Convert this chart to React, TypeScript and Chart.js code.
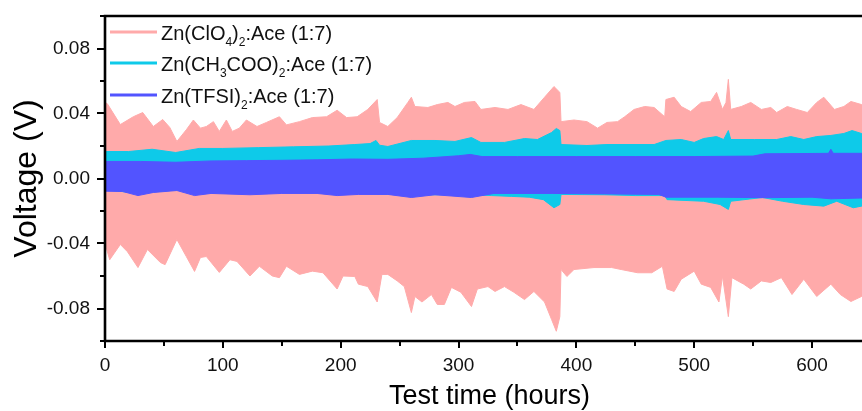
import React, { useEffect, useRef } from "react";
import { Chart, registerables } from "chart.js";

Chart.register(...registerables);

// ---- data (hours, volts) ----
const clo4Upper: [number, number][] = [
  [0, 0.0468], [2, 0.046], [13, 0.0332], [24, 0.038], [32, 0.0406], [41, 0.032], [49, 0.0363], [55, 0.0314],
  [61, 0.0228], [69, 0.03], [75, 0.036], [81, 0.031], [86, 0.032], [92, 0.035], [97, 0.029], [103, 0.036],
  [108, 0.029], [114, 0.031], [120, 0.036], [129, 0.032], [137, 0.0345], [148, 0.038], [154, 0.033], [165, 0.035],
  [176, 0.0375], [188, 0.038], [197, 0.042], [205, 0.0375], [214, 0.038], [223, 0.0425], [231, 0.0486], [233, 0.0345],
  [240, 0.032], [248, 0.0375], [257, 0.0468], [260, 0.05], [263, 0.0443], [274, 0.0437], [282, 0.0455], [291, 0.0468],
  [297, 0.0443], [305, 0.0468], [314, 0.0474], [319, 0.0425], [331, 0.0437], [342, 0.0425], [353, 0.0455], [364, 0.0425],
  [373, 0.05], [381, 0.0566], [386, 0.053], [387, 0.035], [398, 0.036], [409, 0.035], [418, 0.031], [426, 0.0345],
  [435, 0.035], [441, 0.038], [449, 0.0425], [458, 0.0443], [466, 0.0437], [475, 0.038], [476, 0.0486], [483, 0.05],
  [489, 0.0443], [497, 0.0412], [506, 0.0468], [514, 0.0474], [519, 0.053], [524, 0.0425], [527, 0.0468], [529, 0.061],
  [531, 0.0425], [540, 0.0443], [548, 0.0468], [557, 0.0425], [565, 0.0437], [570, 0.0406], [579, 0.0443], [587, 0.0425],
  [596, 0.0406], [604, 0.0468], [610, 0.05], [619, 0.0425], [627, 0.0443], [633, 0.0474], [642, 0.0455], [652, 0.045],
];
const clo4Lower: [number, number][] = [
  [0, -0.04], [4, -0.05], [13, -0.0406], [19, -0.045], [28, -0.0548], [36, -0.0437], [47, -0.0517], [51, -0.053],
  [61, -0.0375], [69, -0.048], [76, -0.0572], [81, -0.0486], [86, -0.048], [97, -0.0578], [106, -0.05], [112, -0.051],
  [123, -0.06], [131, -0.054], [142, -0.06], [148, -0.061], [154, -0.054], [165, -0.059], [176, -0.057], [185, -0.058],
  [197, -0.068], [202, -0.06], [212, -0.0603], [215, -0.065], [223, -0.0665], [231, -0.076], [235, -0.059], [240, -0.059],
  [248, -0.063], [254, -0.0665], [260, -0.0825], [263, -0.0726], [269, -0.076], [277, -0.0714], [282, -0.0775], [288, -0.0775],
  [294, -0.067], [302, -0.07], [311, -0.0788], [316, -0.068], [325, -0.0665], [331, -0.0695], [339, -0.0665], [347, -0.07],
  [356, -0.0745], [364, -0.0695], [373, -0.076], [379, -0.0868], [383, -0.094], [386, -0.085], [387, -0.056], [392, -0.0603],
  [398, -0.056], [415, -0.0548], [430, -0.0548], [438, -0.056], [452, -0.058], [464, -0.058], [473, -0.054], [477, -0.068],
  [483, -0.0695], [489, -0.062], [500, -0.057], [506, -0.065], [514, -0.067], [521, -0.076], [524, -0.06], [529, -0.085],
  [532, -0.061], [542, -0.065], [548, -0.068], [557, -0.063], [565, -0.064], [574, -0.061], [583, -0.0714], [593, -0.062],
  [604, -0.0726], [616, -0.065], [624, -0.0714], [633, -0.0757], [642, -0.0726], [652, -0.072],
];
const acetateUpper: [number, number][] = [
  [0, 0.0166], [20, 0.0166], [40, 0.018], [60, 0.016], [80, 0.0185], [100, 0.0185], [130, 0.019], [160, 0.0195],
  [190, 0.02], [212, 0.0209], [225, 0.0215], [230, 0.0234], [233, 0.0205], [240, 0.0197], [260, 0.0234], [280, 0.0234],
  [297, 0.0228], [311, 0.0252], [319, 0.0222], [339, 0.0222], [356, 0.0246], [367, 0.024], [379, 0.0283], [383, 0.0308],
  [386, 0.0295], [387, 0.0209], [409, 0.0203], [426, 0.0209], [466, 0.0209], [476, 0.0234], [489, 0.024], [500, 0.0222],
  [508, 0.0246], [519, 0.0258], [525, 0.024], [529, 0.0295], [531, 0.024], [551, 0.024], [570, 0.024], [582, 0.0258],
  [593, 0.024], [604, 0.0258], [616, 0.0265], [627, 0.0277], [634, 0.0295], [642, 0.0277], [652, 0.0277],
];
const acetateLower: [number, number][] = [
  [0, -0.007], [28, -0.009], [61, -0.007], [76, -0.009], [123, -0.0085], [197, -0.009], [260, -0.01], [311, -0.01],
  [328, -0.0105], [345, -0.011], [360, -0.0115], [372, -0.013], [381, -0.018], [386, -0.016], [387, -0.0098], [424, -0.01],
  [450, -0.0105], [475, -0.0105], [477, -0.013], [508, -0.014], [522, -0.016], [529, -0.019], [531, -0.014], [558, -0.0117],
  [575, -0.014], [593, -0.016], [610, -0.017], [621, -0.014], [635, -0.018], [642, -0.017], [652, -0.017],
];
const tfsiUpper: [number, number][] = [
  [0, 0.0105], [30, 0.0105], [60, 0.01], [90, 0.0108], [120, 0.011], [150, 0.0112], [180, 0.0115], [210, 0.012],
  [240, 0.0118], [270, 0.0125], [300, 0.014], [310, 0.0148], [320, 0.0135], [350, 0.0135], [400, 0.0135], [450, 0.0135],
  [500, 0.0135], [550, 0.0138], [560, 0.0152], [600, 0.0154], [614, 0.0155], [616, 0.018], [618, 0.0155], [652, 0.0155],
];
const tfsiLower: [number, number][] = [
  [0, -0.0078], [15, -0.008], [28, -0.0105], [41, -0.0086], [61, -0.0074], [76, -0.0105], [90, -0.0092], [123, -0.01],
  [150, -0.0092], [180, -0.0092], [197, -0.0105], [215, -0.0098], [240, -0.0098], [260, -0.0117], [280, -0.01], [311, -0.0117],
  [330, -0.0092], [380, -0.0092], [430, -0.0095], [470, -0.0098], [476, -0.0115], [520, -0.0115], [560, -0.0118], [600, -0.0115],
  [616, -0.0125], [652, -0.0118],
];

const seriesColors = ["rgb(255,170,170)", "rgb(14,202,233)", "rgb(82,84,255)"];
// legend labels split into [text, isSubscript]
const legendLabels: [string, number][][] = [
  [["Zn(ClO", 0], ["4", 1], [")", 0], ["2", 1], [":Ace (1:7)", 0]],
  [["Zn(CH", 0], ["3", 1], ["COO)", 0], ["2", 1], [":Ace (1:7)", 0]],
  [["Zn(TFSI)", 0], ["2", 1], [":Ace (1:7)", 0]],
];
const xMajorTicks = [0, 100, 200, 300, 400, 500, 600];
const xMinorTicks = [50, 150, 250, 350, 450, 550, 650];
const yMajorTicks = [-0.08, -0.04, 0, 0.04, 0.08];
const yMinorTicks = [-0.1, -0.06, -0.02, 0.02, 0.06, 0.1];
const xTitle = "Test time (hours)";
const yTitle = "Voltage (V)";

const FONT = "'Liberation Sans', Arial, sans-serif";

const toPts = (arr: [number, number][]) => arr.map(([x, y]) => ({ x, y }));

const framePlugin = {
  id: "frameLegend",
  afterDraw(chart: any) {
    const { ctx, chartArea: a, scales } = chart;
    const xs = scales.x;
    const ys = scales.y;
    ctx.save();
    ctx.strokeStyle = "#000";
    ctx.lineWidth = 2.6;
    ctx.beginPath();
    ctx.moveTo(a.right + 5, a.top);
    ctx.lineTo(a.left, a.top);
    ctx.lineTo(a.left, a.bottom);
    ctx.lineTo(a.right + 5, a.bottom);
    ctx.stroke();
    ctx.lineWidth = 2;
    ctx.beginPath();
    yMajorTicks.forEach((v) => {
      const p = Math.round(ys.getPixelForValue(v));
      ctx.moveTo(a.left, p);
      ctx.lineTo(a.left - 8, p);
    });
    yMinorTicks.forEach((v) => {
      const p = Math.round(ys.getPixelForValue(v));
      ctx.moveTo(a.left, p);
      ctx.lineTo(a.left - 5, p);
    });
    xMajorTicks.forEach((v) => {
      const p = Math.round(xs.getPixelForValue(v));
      ctx.moveTo(p, a.bottom);
      ctx.lineTo(p, a.bottom + 7);
    });
    xMinorTicks.forEach((v) => {
      const p = Math.round(xs.getPixelForValue(v));
      ctx.moveTo(p, a.bottom);
      ctx.lineTo(p, a.bottom + 5);
    });
    ctx.stroke();

    // legend
    const rows = [32, 63, 95];
    legendLabels.forEach((parts, i) => {
      const yRow = rows[i];
      ctx.strokeStyle = seriesColors[i];
      ctx.lineWidth = 3;
      ctx.beginPath();
      ctx.moveTo(110, yRow);
      ctx.lineTo(157, yRow);
      ctx.stroke();
      let tx = 161;
      const base = yRow + 8;
      ctx.fillStyle = "#111";
      ctx.textBaseline = "alphabetic";
      ctx.textAlign = "left";
      parts.forEach(([t, sub]) => {
        ctx.font = sub ? `12px ${FONT}` : `20px ${FONT}`;
        ctx.fillText(t, tx, sub ? base + 5.5 : base);
        tx += ctx.measureText(t).width;
      });
    });
    ctx.restore();
  },
};

export default function App() {
  const ref = useRef<HTMLCanvasElement | null>(null);
  useEffect(() => {
    if (!ref.current) return;
    const line = (data: [number, number][], color: string, fill: any) => ({
      data: toPts(data),
      borderColor: color,
      backgroundColor: color,
      borderWidth: 1,
      pointRadius: 0,
      tension: 0,
      fill,
    });
    const chart = new Chart(ref.current, {
      type: "line",
      data: {
        datasets: [
          line(tfsiUpper, seriesColors[2], false),
          line(tfsiLower, seriesColors[2], "-1"),
          line(acetateUpper, seriesColors[1], false),
          line(acetateLower, seriesColors[1], "-1"),
          line(clo4Upper, seriesColors[0], false),
          line(clo4Lower, seriesColors[0], "-1"),
        ] as any,
      },
      options: {
        animation: false,
        responsive: false,
        layout: { padding: { top: 16, left: 0, right: 0, bottom: 0 } },
        plugins: { legend: { display: false }, tooltip: { enabled: false } },
        scales: {
          x: {
            type: "linear",
            min: 0,
            max: 652.6,
            grid: { display: false, drawTicks: false },
            border: { display: false },
            afterBuildTicks: (s: any) => {
              s.ticks = xMajorTicks.map((v) => ({ value: v }));
            },
            afterFit: (s: any) => {
              s.height = 70;
              s.paddingLeft = 0;
              s.paddingRight = 0;
              s.paddingTop = 0;
              s.paddingBottom = 0;
            },
            ticks: {
              padding: 13,
              maxRotation: 0,
              color: "#111",
              font: { family: FONT, size: 19 },
              callback: (v: any) => String(v),
            },
            title: {
              display: true,
              text: xTitle,
              color: "#000",
              padding: 0,
              font: { family: FONT, size: 27, lineHeight: 1.1 },
            },
          },
          y: {
            min: -0.1,
            max: 0.1,
            grid: { display: false, drawTicks: false },
            border: { display: false },
            afterBuildTicks: (s: any) => {
              s.ticks = yMajorTicks.map((v) => ({ value: v }));
            },
            afterFit: (s: any) => {
              s.width = 105;
              s.paddingTop = 0;
              s.paddingBottom = 0;
              s.paddingLeft = 0;
              s.paddingRight = 0;
            },
            ticks: {
              padding: 15,
              color: "#111",
              font: { family: FONT, size: 19 },
              callback: (v: any) => Number(v).toFixed(2),
            },
            title: {
              display: true,
              text: yTitle,
              color: "#000",
              padding: { top: 8, bottom: 0 },
              font: { family: FONT, size: 32, lineHeight: 1.2 },
            },
          },
        },
      },
      plugins: [framePlugin],
    } as any);
    return () => chart.destroy();
  }, []);
  return (
    <div style={{ position: "fixed", left: 0, top: 0, width: 862, height: 411, overflow: "hidden", background: "#fff" }}>
      <canvas ref={ref} width={874} height={411} style={{ display: "block", width: 874, height: 411 }} />
    </div>
  );
}
